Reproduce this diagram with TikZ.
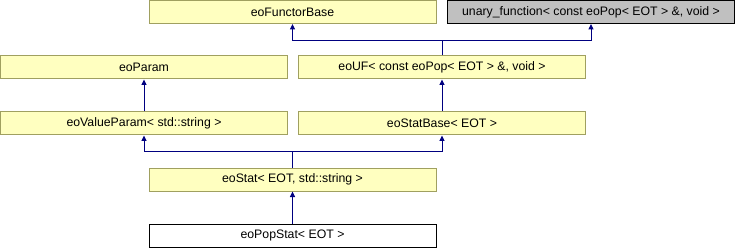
\documentclass[tikz,border=0pt]{standalone}
\usepackage{fontspec}
\setmainfont{Liberation Sans}
\usetikzlibrary{arrows.meta}
\definecolor{boxfill}{HTML}{FFFFC0}
\definecolor{boxline}{HTML}{A0A060}
\definecolor{grayfill}{HTML}{C0C0C0}
\definecolor{edgecol}{HTML}{000080}
\begin{document}
\begin{tikzpicture}[x=1pt,y=-1pt,
  cls/.style={draw=boxline,fill=boxfill,line width=1pt,minimum width=287pt,minimum height=23pt,inner sep=0pt,font=\fontsize{12.3}{14}\selectfont},
  ext/.style={cls,draw=black,fill=grayfill},
  cur/.style={cls,draw=black,fill=white},
  inh/.style={draw=edgecol,line width=1pt,-{Triangle[length=5.5pt,width=5pt]}}]
\useasboundingbox (0,0) rectangle (735,248);
\node[cls] (fb) at (292.5,12) {eoFunctorBase};
\node[ext] (un) at (591,12) {unary\_function< const eoPop< EOT > \&, void >};
\node[cls] (par) at (144,67.5) {eoParam};
\node[cls] (uf) at (442,67.5) {eoUF< const eoPop< EOT > \&, void >};
\node[cls] (vp) at (144,123.5) {eoValueParam< std::string >};
\node[cls] (sb) at (442,123.5) {eoStatBase< EOT >};
\node[cls] (st) at (292.5,179.5) {eoStat< EOT, std::string >};
\node[cur] (ps) at (292.5,235.5) {eoPopStat< EOT >};
\coordinate (j1) at (442,40.5);
\coordinate (j2) at (292.5,152);
\draw[edgecol,line width=1pt] (uf.north) -- (j1);
\draw[inh] (j1) -| (fb.south);
\draw[inh] (j1) -| (un.south);
\draw[inh] (vp.north) -- (par.south);
\draw[inh] (sb.north) -- (uf.south);
\draw[edgecol,line width=1pt] (st.north) -- (j2);
\draw[inh] (j2) -| (vp.south);
\draw[inh] (j2) -| (sb.south);
\draw[inh] (ps.north) -- (st.south);
\end{tikzpicture}
\end{document}
